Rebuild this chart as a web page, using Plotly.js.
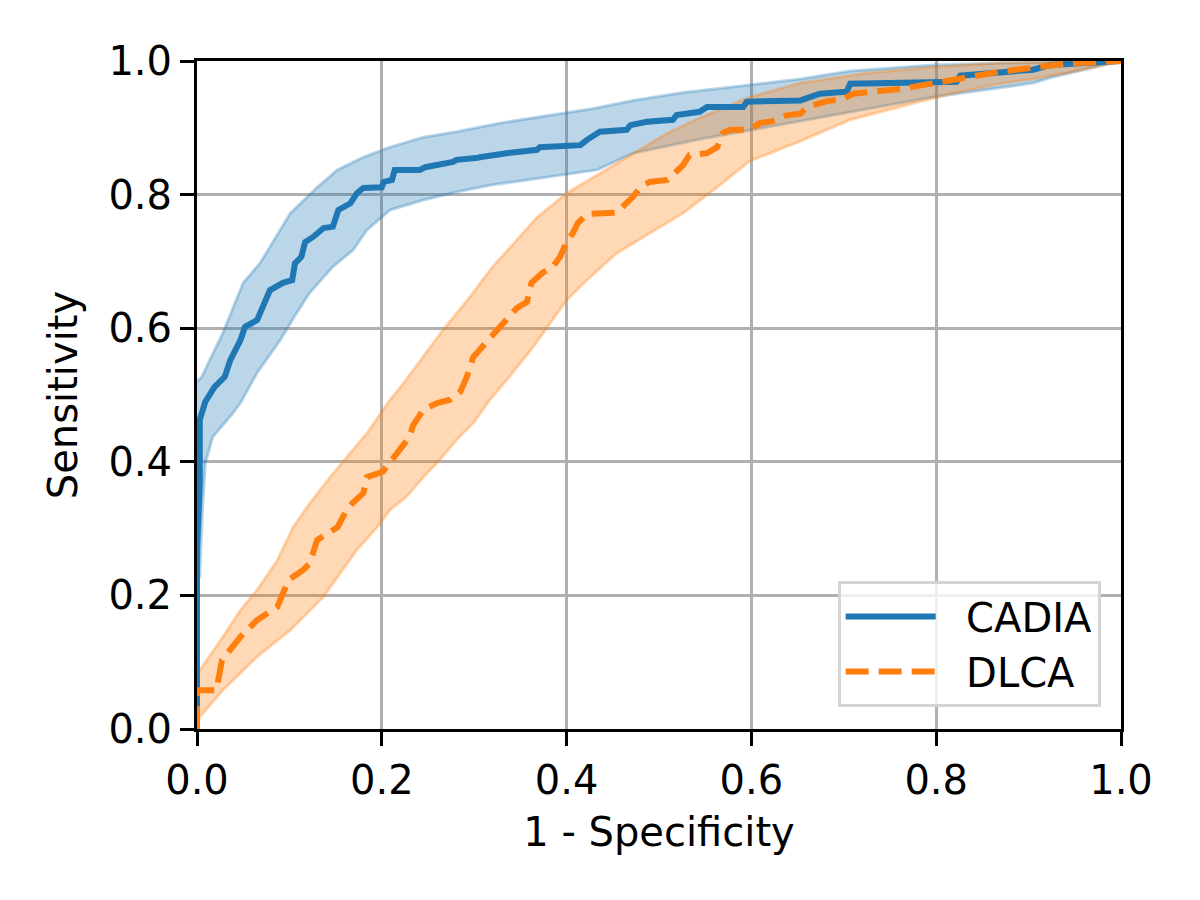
<!DOCTYPE html>
<html>
<head>
<meta charset="utf-8">
<script src="https://cdn.plot.ly/plotly-3.0.1.min.js"></script>
<style>html,body{margin:0;padding:0;background:#fff;}#chart{width:1200px;height:900px;}</style>
</head>
<body>
<div id="chart"></div>
<script>
// CADIA mean ROC
const cadiaX = [0,0,0.003,0.003,0.009,0.019,0.030,0.036,0.047,0.052,0.065,0.070,0.079,0.093,0.103,0.106,0.113,0.117,0.126,0.137,0.147,0.153,0.166,0.173,0.180,0.200,0.202,0.211,0.214,0.241,0.247,0.277,0.281,0.304,0.306,0.335,0.368,0.371,0.415,0.422,0.436,0.465,0.469,0.487,0.515,0.519,0.544,0.552,0.591,0.595,0.653,0.674,0.703,0.707,0.822,0.826,0.869,0.872,0.905,0.923,0.959,1.0];
const cadiaY = [0,0.27,0.37,0.463,0.49,0.512,0.527,0.552,0.582,0.602,0.612,0.627,0.657,0.668,0.672,0.697,0.707,0.729,0.737,0.750,0.752,0.777,0.787,0.802,0.810,0.811,0.819,0.822,0.837,0.837,0.841,0.849,0.852,0.855,0.856,0.862,0.867,0.871,0.874,0.882,0.894,0.897,0.904,0.909,0.912,0.919,0.924,0.931,0.931,0.939,0.941,0.951,0.954,0.966,0.969,0.978,0.982,0.984,0.987,0.994,0.996,1.0];
// CADIA band
const cadiaUpX = [0,0.005,0.028,0.050,0.068,0.101,0.130,0.152,0.180,0.209,0.245,0.281,0.328,0.429,0.472,0.526,0.598,0.653,0.707,0.797,0.869,1.0];
const cadiaUpY = [0.52,0.527,0.593,0.668,0.697,0.772,0.811,0.837,0.856,0.871,0.886,0.894,0.907,0.929,0.941,0.953,0.964,0.973,0.985,0.994,0.997,1.0];
const cadiaLoX = [0,0.003,0.006,0.009,0.017,0.039,0.047,0.065,0.090,0.108,0.122,0.147,0.169,0.184,0.209,0.245,0.281,0.317,0.433,0.472,0.544,0.617,0.707,0.797,0.905,0.923,1.0];
const cadiaLoY = [0.22,0.228,0.33,0.398,0.437,0.473,0.488,0.533,0.582,0.623,0.653,0.692,0.717,0.747,0.777,0.792,0.804,0.814,0.837,0.862,0.883,0.901,0.924,0.946,0.967,0.975,1.0];
// DLCA mean ROC
const dlcaX = [0,0,0.021,0.027,0.047,0.065,0.087,0.099,0.115,0.122,0.130,0.144,0.152,0.162,0.168,0.180,0.184,0.201,0.209,0.220,0.230,0.234,0.245,0.260,0.274,0.285,0.292,0.299,0.314,0.328,0.346,0.357,0.362,0.374,0.385,0.393,0.400,0.407,0.412,0.422,0.454,0.463,0.472,0.480,0.490,0.509,0.519,0.526,0.533,0.552,0.563,0.569,0.577,0.598,0.609,0.623,0.639,0.653,0.660,0.682,0.699,0.710,0.761,0.797,0.822,0.869,0.905,0.941,1.0];
const dlcaY = [0,0.058,0.058,0.103,0.138,0.163,0.183,0.223,0.238,0.248,0.283,0.295,0.302,0.328,0.338,0.353,0.377,0.385,0.400,0.418,0.437,0.455,0.478,0.488,0.493,0.505,0.527,0.557,0.582,0.602,0.630,0.639,0.668,0.683,0.692,0.707,0.729,0.743,0.757,0.771,0.773,0.784,0.797,0.811,0.819,0.822,0.834,0.844,0.859,0.862,0.871,0.892,0.897,0.897,0.907,0.910,0.919,0.921,0.931,0.940,0.943,0.951,0.958,0.967,0.973,0.984,0.990,0.996,1.0];
// DLCA band
const dlcaUpX = [0,0.003,0.028,0.047,0.065,0.087,0.104,0.122,0.144,0.162,0.184,0.209,0.222,0.266,0.292,0.320,0.346,0.368,0.400,0.436,0.472,0.509,0.544,0.598,0.653,0.725,0.797,0.869,1.0];
const dlcaUpY = [0.08,0.088,0.138,0.178,0.208,0.253,0.302,0.338,0.377,0.407,0.443,0.493,0.515,0.597,0.641,0.692,0.732,0.766,0.802,0.832,0.862,0.892,0.915,0.946,0.967,0.982,0.991,0.997,1.0];
const dlcaLoX = [0,0.003,0.028,0.065,0.101,0.119,0.137,0.155,0.173,0.195,0.209,0.227,0.245,0.263,0.281,0.299,0.317,0.335,0.364,0.400,0.422,0.454,0.490,0.526,0.563,0.598,0.653,0.707,0.761,0.815,0.869,0.905,0.941,1.0];
const dlcaLoY = [0.005,0.018,0.058,0.108,0.148,0.173,0.198,0.233,0.268,0.302,0.328,0.348,0.377,0.403,0.433,0.458,0.493,0.522,0.572,0.642,0.672,0.712,0.742,0.772,0.811,0.850,0.880,0.912,0.931,0.951,0.966,0.973,0.982,1.0];

const tickVals = [0,0.2,0.4,0.6,0.8,1.0];
const tickText = ['0.0','0.2','0.4','0.6','0.8','1.0'];
const seriesNames = ['CADIA', 'DLCA'];

function band(upX, upY, loX, loY, rgb) {
  return {
    x: upX.concat(loX.slice().reverse()),
    y: upY.concat(loY.slice().reverse()),
    type: 'scatter', mode: 'lines', fill: 'toself',
    fillcolor: 'rgba(' + rgb + ',0.3)',
    line: {color: 'rgba(' + rgb + ',0.3)', width: 3},
    showlegend: false, hoverinfo: 'skip'
  };
}

const pad = '\u00a0\u00a0';
const traces = [
  band(cadiaUpX, cadiaUpY, cadiaLoX, cadiaLoY, '31,119,180'),
  band(dlcaUpX, dlcaUpY, dlcaLoX, dlcaLoY, '255,127,14'),
  {x: cadiaX, y: cadiaY, type: 'scatter', mode: 'lines', name: pad + seriesNames[0],
   line: {color: '#1f77b4', width: 6}},
  {x: dlcaX, y: dlcaY, type: 'scatter', mode: 'lines', name: pad + seriesNames[1],
   line: {color: '#ff7f0e', width: 6, dash: '23px,10px'}}
];

const axisCommon = {
  range: [0, 1], tickvals: tickVals, ticktext: tickText,
  showgrid: true, gridcolor: '#b0b0b0', gridwidth: 3,
  zeroline: false, showline: true, mirror: true, linecolor: '#000', linewidth: 3,
  ticks: 'outside', ticklen: 14, tickwidth: 3, tickcolor: '#000',
  tickfont: {family: 'DejaVu Sans', size: 40, color: '#000'}
};

const layout = {
  width: 1200, height: 900,
  margin: {l: 197, r: 79, t: 61, b: 171},
  paper_bgcolor: '#fff', plot_bgcolor: '#fff',
  font: {family: 'DejaVu Sans', size: 40, color: '#000'},
  xaxis: Object.assign({}, axisCommon, {title: {text: '1 - Specificity', font: {family: 'DejaVu Sans', size: 40}, standoff: 16}}),
  yaxis: Object.assign({}, axisCommon, {title: {text: 'Sensitivity', font: {family: 'DejaVu Sans', size: 40}, standoff: 19}}),
  legend: {
    x: 0.978, xanchor: 'right', y: 0.033, yanchor: 'bottom',
    bgcolor: 'rgba(255,255,255,0.8)', bordercolor: '#d4d4d4', borderwidth: 3,
    font: {family: 'DejaVu Sans', size: 40, color: '#000'},
    itemwidth: 90
  },
  showlegend: true
};

Plotly.newPlot('chart', traces, layout, {staticPlot: true, displayModeBar: false});
</script>
</body>
</html>
